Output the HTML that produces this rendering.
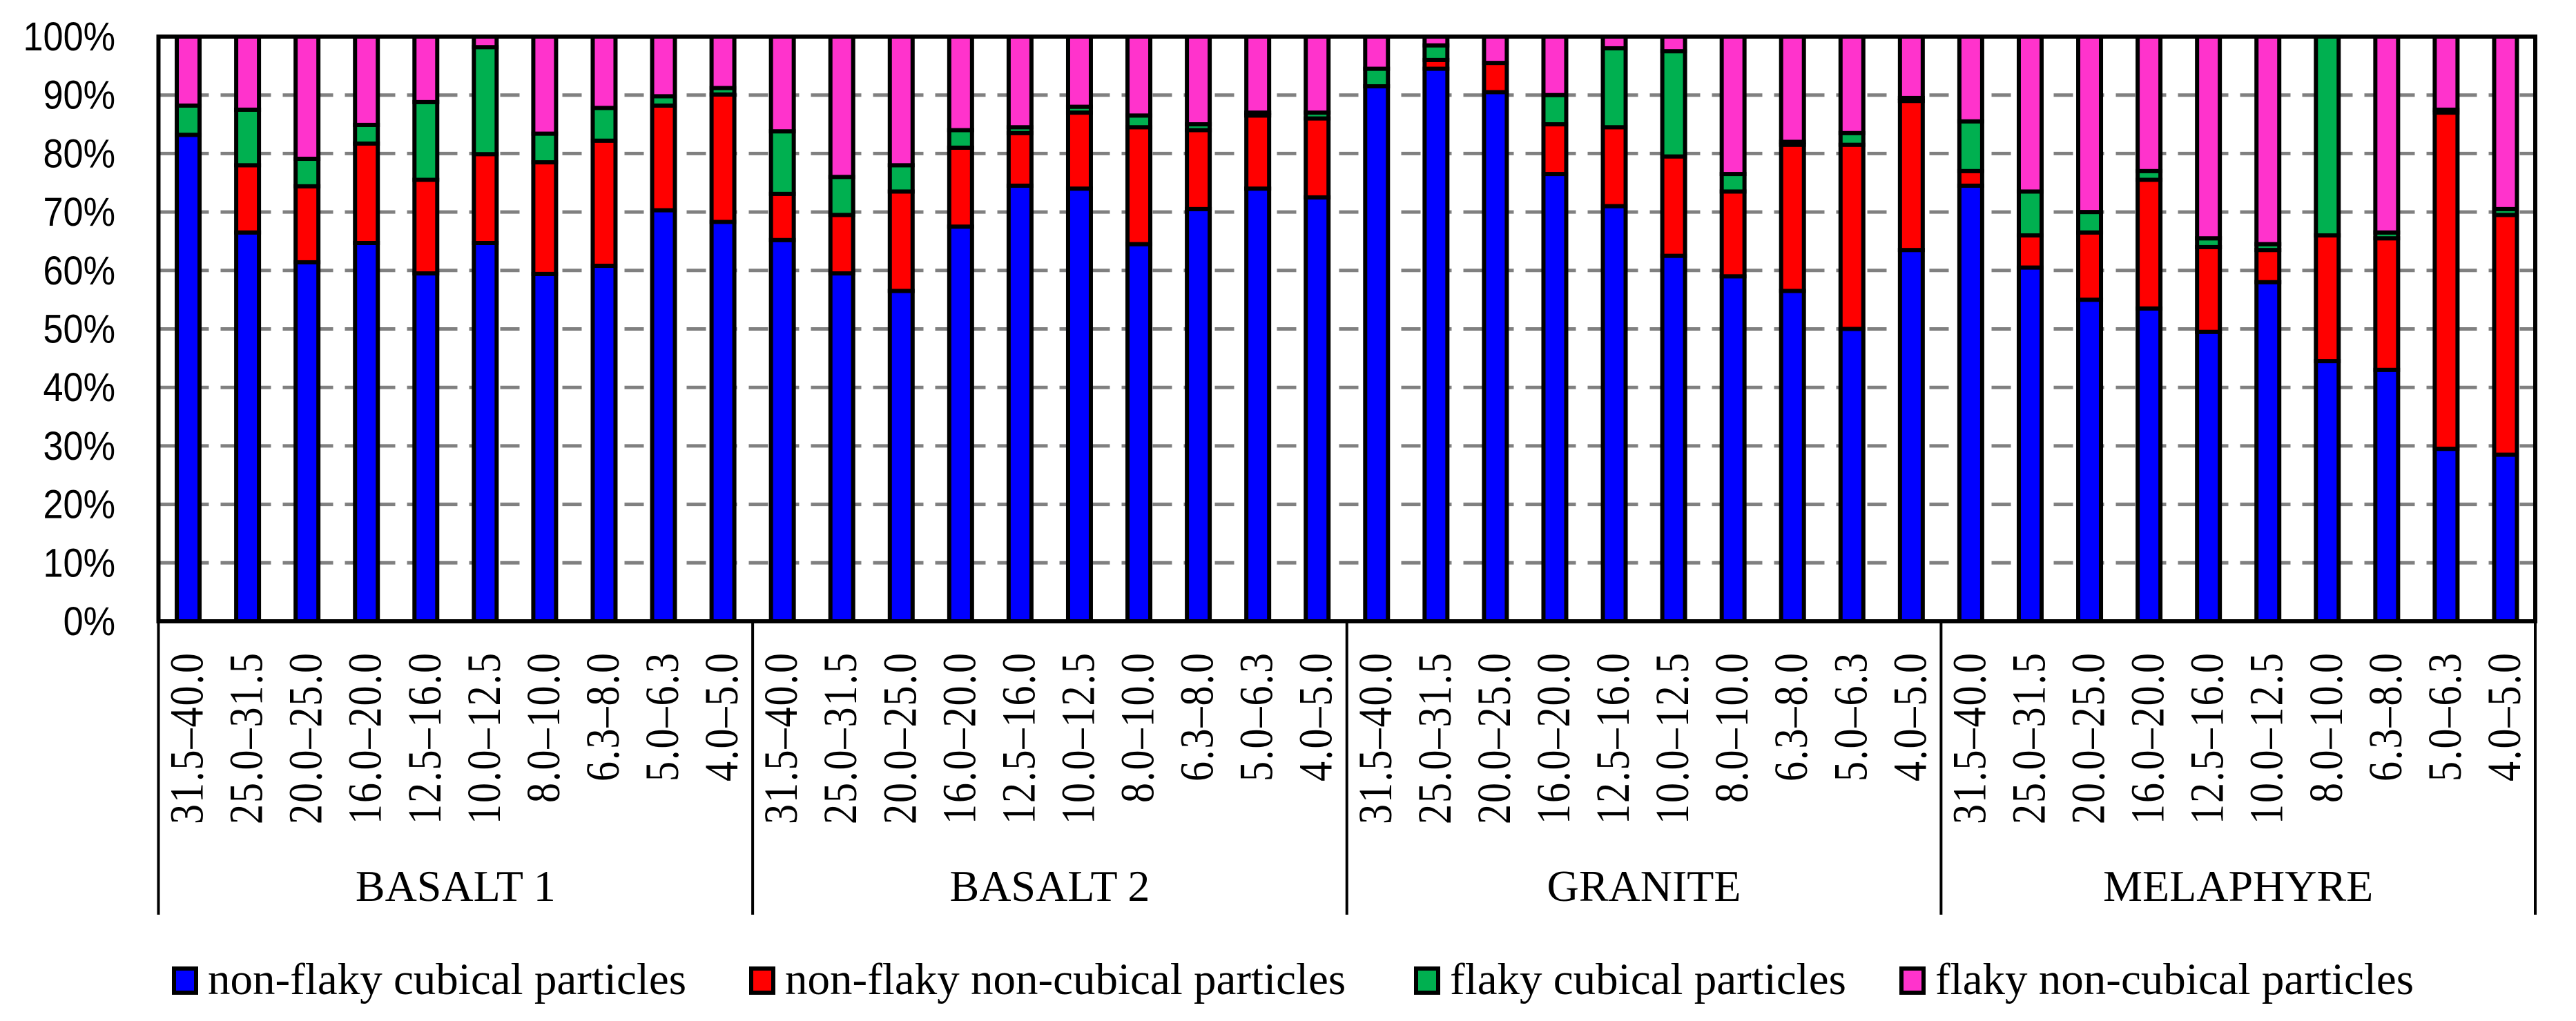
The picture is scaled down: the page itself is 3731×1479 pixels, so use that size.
<!DOCTYPE html>
<html><head><meta charset="utf-8"><style>
html,body{margin:0;padding:0;background:#fff;}
svg{display:block;}
</style></head><body>
<svg id="chart" width="3731" height="1479" viewBox="0 0 3731 1479" xmlns="http://www.w3.org/2000/svg">
<rect x="0" y="0" width="3731" height="1479" fill="#fff"/>
<g id="grid"></g><g id="bars"></g><g id="axes"></g><g id="legend"></g>
</svg>
<script>
const groups = ["BASALT 1","BASALT 2","GRANITE","MELAPHYRE"];
const sizes = ["31.5–40.0","25.0–31.5","20.0–25.0","16.0–20.0","12.5–16.0","10.0–12.5","8.0–10.0","6.3–8.0","5.0–6.3","4.0–5.0"];
const seriesNames = ["non-flaky cubical particles","non-flaky non-cubical particles","flaky cubical particles","flaky non-cubical particles"];
const yTicks = [0,10,20,30,40,50,60,70,80,90,100];
const blueVals = [83.2,66.5,61.4,64.7,59.5,64.7,59.4,60.8,70.3,68.3, 65.2,59.5,56.5,67.5,74.5,74,64.5,70.5,74,72.5, 91.5,94.5,90.5,76.5,71,62.5,59,56.5,50,63.5, 74.5,60.5,55,53.5,49.5,58,44.5,43,29.5,28.5];
const redVals = [0,11.5,13,17,16,15.2,19.1,21.4,17.9,21.8, 7.9,10,17,13.5,9,13,20,13.5,12.5,13.5, 0,1.5,5,8.5,13.5,17,14.5,25,31.5,25.5, 2.5,5.5,11.5,22,14.5,5.5,21.5,22.5,57.5,41];
const greenVals = [5,9.5,4.7,3.2,13.3,18.3,4.9,5.6,1.6,1.1, 10.7,6.5,4.5,3,1,1,2,1,0.5,1, 3,2.5,0,5,13.5,18,3,0.5,2,0.5, 8.5,7.5,3.5,1.5,1.5,1,34,1,0.5,1];
const pinkVals = blueVals.map((b,i)=>Math.max(0,100-b-redVals[i]-greenVals[i]));

const NS="http://www.w3.org/2000/svg";
const X0=229.5, X1=3672, Y0=900, Y1=53;
const nCat=blueVals.length, slot=(X1-X0)/nCat;
const xC=i=>X0+slot*(i+0.5);
const yS=v=>Y0-(Y0-Y1)*v/100;
function mk(tag,attrs,parent){const e=document.createElementNS(NS,tag);for(const k in attrs)e.setAttribute(k,attrs[k]);parent.appendChild(e);return e;}
const grid=document.getElementById('grid'),bars=document.getElementById('bars'),axes=document.getElementById('axes'),legend=document.getElementById('legend');

yTicks.forEach(t=>{
  if(t>0&&t<100){const l=mk('line',{x1:X0,x2:X1,y1:yS(t),y2:yS(t),stroke:'#808080','stroke-width':5,'stroke-dasharray':'28 17'},grid);
  
  }
  const tx=mk('text',{x:167,y:yS(t)+20,'text-anchor':'end','font-family':'Liberation Sans, sans-serif','font-size':58,fill:'#000',transform:`translate(167 0) scale(0.9 1) translate(-167 0)`},axes);
  tx.textContent=t+'%';
  
  
});

const colors=['#0000ff','#ff0000','#00b050','#ff33cc'];
const series=[blueVals,redVals,greenVals,pinkVals];
const bw=33;
for(let i=0;i<nCat;i++){
  let acc=0;
  series.forEach((vals,s)=>{
    const v=vals[i];
    const top=yS(acc+v), bot=yS(acc);
    const r=mk('rect',{x:xC(i)-bw/2,y:top,width:bw,height:Math.max(0,bot-top),fill:colors[s],stroke:'#000','stroke-width':6},bars);
    
    
    acc+=v;
  });
}
const fr=mk('rect',{x:X0,y:Y1,width:X1-X0,height:Y0-Y1,fill:'none',stroke:'#000','stroke-width':6},axes);


for(let g=0;g<=groups.length;g++){
  const x=X0+g*10*slot;
  const l=mk('line',{x1:x,x2:x,y1:Y0,y2:1325,stroke:'#000','stroke-width':4},axes);
  
  
}
groups.forEach((g,gi)=>{
  const t=mk('text',{x:X0+(gi*10+5)*slot,y:1305,'text-anchor':'middle','font-family':'Liberation Serif, serif','font-size':64,fill:'#000'},axes);
  t.textContent=g;
  
  
});
for(let i=0;i<nCat;i++){
  const lbl=sizes[i%10];
  const x=xC(i)+21;
  const t=mk('text',{x:0,y:0,'text-anchor':'end','font-family':'Liberation Serif, serif','font-size':58,'letter-spacing':2,fill:'#000',transform:`translate(${x} 944) rotate(-90) scale(1 1.18)`},axes);
  t.textContent=lbl;
  
  
}
const legX=[249,1085,2048,2751];
seriesNames.forEach((n,s)=>{
  const r=mk('rect',{x:legX[s]+3,y:1403,width:32,height:35,fill:colors[s],stroke:'#000','stroke-width':6},legend);
  
  
  const t=mk('text',{x:legX[s]+52,y:1440,'font-family':'Liberation Serif, serif','font-size':65,fill:'#000'},legend);
  t.textContent=n;
  
  
});
</script>
</body></html>
